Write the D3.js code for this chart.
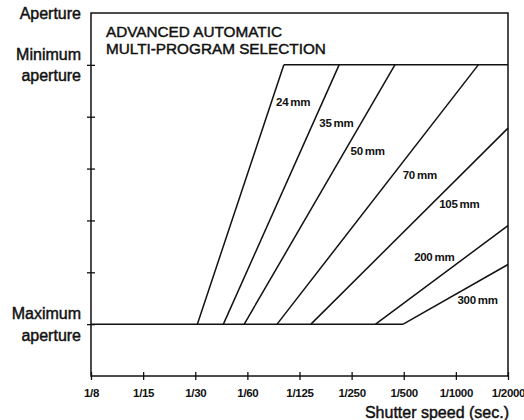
<!DOCTYPE html>
<html>
<head>
<meta charset="utf-8">
<script src="https://cdn.jsdelivr.net/npm/d3@7"></script>
<style>
  body { margin: 0; background: #fff; }
  svg { display: block; font-family: "Liberation Sans", Arial, sans-serif; }
  .heavy { stroke: #111; stroke-width: 0.45px; }
</style>
</head>
<body>
<div id="viz"></div>
<script>
// shutter speeds along the bottom, one stop apart
var speedLabels = ["1/8", "1/15", "1/30", "1/60", "1/125", "1/250", "1/500", "1/1000", "1/2000"];

// lens programs: where each line leaves max aperture and where it ends (in stops)
var lenses = ["24 mm", "35 mm", "50 mm", "70 mm", "105 mm", "200 mm", "300 mm"];
var startStop = [2.04, 2.54, 2.94, 3.57, 4.22, 5.46, 5.99];
var endStop = [3.70, 4.76, 5.83, 7.43, 8, 8, 8];
var endAperture = [5, 5, 5, 5, 3.78, 1.90, 1.15];

// label anchors, in the same units
var labelStop = [3.55, 4.38, 4.98, 5.98, 6.68, 6.20, 7.03];
var labelAperture = [4.29, 3.88, 3.33, 2.88, 2.31, 1.29, 0.46];

// aperture ticks, 0 = maximum aperture, 5 = minimum aperture
var apertureTicks = [0, 1, 2, 3, 4, 5];

var svg = d3.select('#viz').append('svg')
	.attr('width', 524)
	.attr('height', 420);

var x = d3.scaleLinear().domain([0, 8]).range([91, 508]);
var y = d3.scaleLinear().domain([-1, 6]).range([376, 13]);

var ink = '#111';

// frame
svg.append('rect')
	.attr('x', x(0))
	.attr('y', y(6))
	.attr('width', x(8) - x(0))
	.attr('height', y(-1) - y(6))
	.attr('fill', 'none')
	.attr('stroke', ink)
	.attr('stroke-width', 1.5);

// bottom axis, ticks crossing the frame line
var xAxis = svg.append('g')
	.attr('transform', 'translate(0,' + y(-1) + ')')
	.call(d3.axisBottom(x).tickValues(d3.range(speedLabels.length))
		.tickFormat(function(d) { return speedLabels[d]; }));
xAxis.select('.domain').remove();
xAxis.selectAll('.tick line')
	.attr('y1', -4).attr('y2', 4)
	.attr('stroke', ink).attr('stroke-width', 1.3);
xAxis.selectAll('.tick text')
	.attr('y', 17).attr('dy', '0.35em')
	.attr('fill', ink)
	.attr('font-size', '11.5px')
	.attr('font-weight', 'bold')
	.attr('letter-spacing', '-0.3')
	.attr('font-family', '"Liberation Sans", Arial, sans-serif');

// left axis, no labels
var yAxis = svg.append('g')
	.attr('transform', 'translate(' + x(0) + ',0)')
	.call(d3.axisLeft(y).tickValues(apertureTicks).tickFormat(''));
yAxis.select('.domain').remove();
yAxis.selectAll('.tick line')
	.attr('x1', -4).attr('x2', 4)
	.attr('stroke', ink).attr('stroke-width', 1.3);

var line = d3.line()
	.x(function(d) { return x(d[0]); })
	.y(function(d) { return y(d[1]); });

var lines = svg.append('g')
	.attr('fill', 'none')
	.attr('stroke', ink)
	.attr('stroke-width', 1.5);

// max aperture floor and min aperture ceiling
lines.append('path').attr('d', line([[0, 0], [startStop[startStop.length - 1], 0]]));
lines.append('path').attr('d', line([[endStop[0], 5], [8, 5]]));

// one line per lens
lines.selectAll('.lens')
	.data(lenses).enter()
	.append('path')
	.attr('class', 'lens')
	.attr('d', function(d, i) { return line([[startStop[i], 0], [endStop[i], endAperture[i]]]); });

svg.append('g').selectAll('text')
	.data(lenses).enter()
	.append('text')
	.attr('x', function(d, i) { return x(labelStop[i]); })
	.attr('y', function(d, i) { return y(labelAperture[i]); })
	.attr('dy', '0.35em')
	.attr('font-size', '11.5px')
	.attr('font-weight', 'bold')
	.attr('letter-spacing', '-0.3')
	.attr('word-spacing', '-0.8')
	.attr('fill', ink)
	.text(function(d) { return d; });

// title
var title = svg.append('text')
	.attr('class', 'heavy')
	.attr('x', 106)
	.attr('font-size', '15.3px')
	.attr('fill', ink);
title.append('tspan').attr('x', 106).attr('y', 37).text('ADVANCED AUTOMATIC');
title.append('tspan').attr('x', 106).attr('y', 54).text('MULTI-PROGRAM SELECTION');

// side labels
function sideLabel(lines, cy) {
	var t = svg.append('text')
		.attr('class', 'heavy')
		.attr('text-anchor', 'end')
		.attr('font-size', '16px')
		.attr('fill', ink);
	lines.forEach(function(s, i) {
		t.append('tspan')
			.attr('x', 81)
			.attr('y', cy + (i - (lines.length - 1) / 2) * 21.7)
			.attr('dy', '0.35em')
			.text(s);
	});
}
sideLabel(['Aperture'], y(6));
sideLabel(['Minimum', 'aperture'], y(5));
sideLabel(['Maximum', 'aperture'], y(0));

// axis title
svg.append('text')
	.attr('class', 'heavy')
	.attr('x', 509)
	.attr('y', 412)
	.attr('dy', '0.35em')
	.attr('text-anchor', 'end')
	.attr('font-size', '16px')
	.attr('fill', ink)
	.text('Shutter speed (sec.)');
</script>
</body>
</html>
